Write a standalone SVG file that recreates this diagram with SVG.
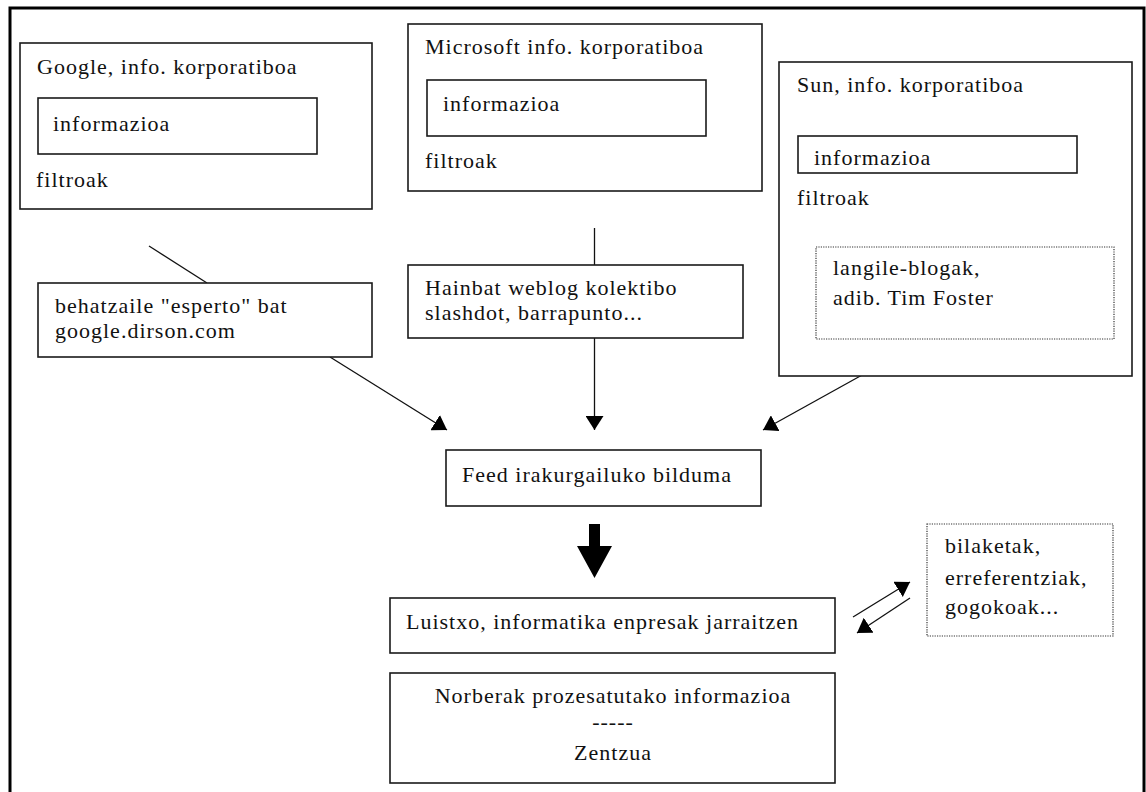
<svg xmlns="http://www.w3.org/2000/svg" width="1146" height="792" viewBox="0 0 1146 792">
<style>
.box{fill:#fff;stroke:#1a1a1a;stroke-width:1.6}
.dot{fill:#fff;stroke:#333;stroke-width:1.2;stroke-dasharray:1.2 1.2}
.t{font-family:"Liberation Serif","Times New Roman",serif;font-size:22px;letter-spacing:1px;fill:#111}
.c{text-anchor:middle}
.ln{stroke:#111;stroke-width:1.3;fill:none}
</style>
<defs>
<marker id="ah" viewBox="0 0 14 18" refX="14" refY="9" markerWidth="14" markerHeight="18" markerUnits="userSpaceOnUse" orient="auto">
<path d="M0,0 L14,9 L0,18 z" fill="#000"/>
</marker>
</defs>
<rect x="10" y="8" width="1134" height="900" fill="#fff" stroke="#000" stroke-width="3"/>
<g id="connectors">
<line class="ln" x1="149" y1="246" x2="207" y2="283"/>
<line class="ln" x1="330" y1="357" x2="447" y2="430" marker-end="url(#ah)"/>
<line class="ln" x1="594.5" y1="228" x2="594.5" y2="430" marker-end="url(#ah)"/>
<line class="ln" x1="927" y1="339" x2="763" y2="430" marker-end="url(#ah)"/>
<polygon points="589,524 600,524 600,546 612,546 594.5,578 577,546 589,546" fill="#000"/>
<line class="ln" x1="853" y1="617" x2="910" y2="582" marker-end="url(#ah)"/>
<line class="ln" x1="910" y1="598" x2="857" y2="633" marker-end="url(#ah)"/>
</g>
<g id="google">
<rect class="box" x="20" y="43" width="352" height="166"/>
<text class="t" x="37" y="74">Google, info. korporatiboa</text>
<rect class="box" x="38" y="98" width="279" height="56"/>
<text class="t" x="53" y="131">informazioa</text>
<text class="t" x="36" y="187">filtroak</text>
</g>
<g id="microsoft">
<rect class="box" x="408" y="24" width="354" height="167"/>
<text class="t" x="425" y="54">Microsoft info. korporatiboa</text>
<rect class="box" x="427" y="80" width="279" height="56"/>
<text class="t" x="443" y="111">informazioa</text>
<text class="t" x="425" y="168">filtroak</text>
</g>
<g id="sun">
<rect class="box" x="779" y="62" width="353" height="314"/>
<text class="t" x="797" y="92">Sun, info. korporatiboa</text>
<rect class="box" x="798" y="136" width="279" height="37"/>
<text class="t" x="814" y="165">informazioa</text>
<text class="t" x="797" y="205">filtroak</text>
</g>
<g id="langile">
<rect class="dot" x="816" y="247" width="298" height="92"/>
<text class="t" x="833" y="275">langile-blogak,</text>
<text class="t" x="833" y="305">adib. Tim Foster</text>
</g>
<g id="behatzaile">
<rect class="box" x="38" y="283" width="334" height="74"/>
<text class="t" x="55" y="313">behatzaile "esperto" bat</text>
<text class="t" x="55" y="338">google.dirson.com</text>
</g>
<g id="hainbat">
<rect class="box" x="408" y="265" width="335" height="73"/>
<text class="t" x="425" y="295">Hainbat weblog kolektibo</text>
<text class="t" x="425" y="320">slashdot, barrapunto...</text>
</g>
<g id="feed">
<rect class="box" x="446" y="450" width="315" height="56"/>
<text class="t" x="462" y="482">Feed irakurgailuko bilduma</text>
</g>
<g id="luistxo">
<rect class="box" x="390" y="598" width="445" height="55"/>
<text class="t" x="406" y="629">Luistxo, informatika enpresak jarraitzen</text>
</g>
<g id="norberak">
<rect class="box" x="390" y="673" width="445" height="110"/>
<text class="t c" x="613" y="703">Norberak prozesatutako informazioa</text>
<text class="t c" x="613" y="729">-----</text>
<text class="t c" x="613" y="760">Zentzua</text>
</g>
<g id="bilaketak">
<rect class="dot" x="927" y="524" width="186" height="112"/>
<text class="t" x="945" y="553">bilaketak,</text>
<text class="t" x="945" y="585">erreferentziak,</text>
<text class="t" x="945" y="614">gogokoak...</text>
</g>
</svg>
